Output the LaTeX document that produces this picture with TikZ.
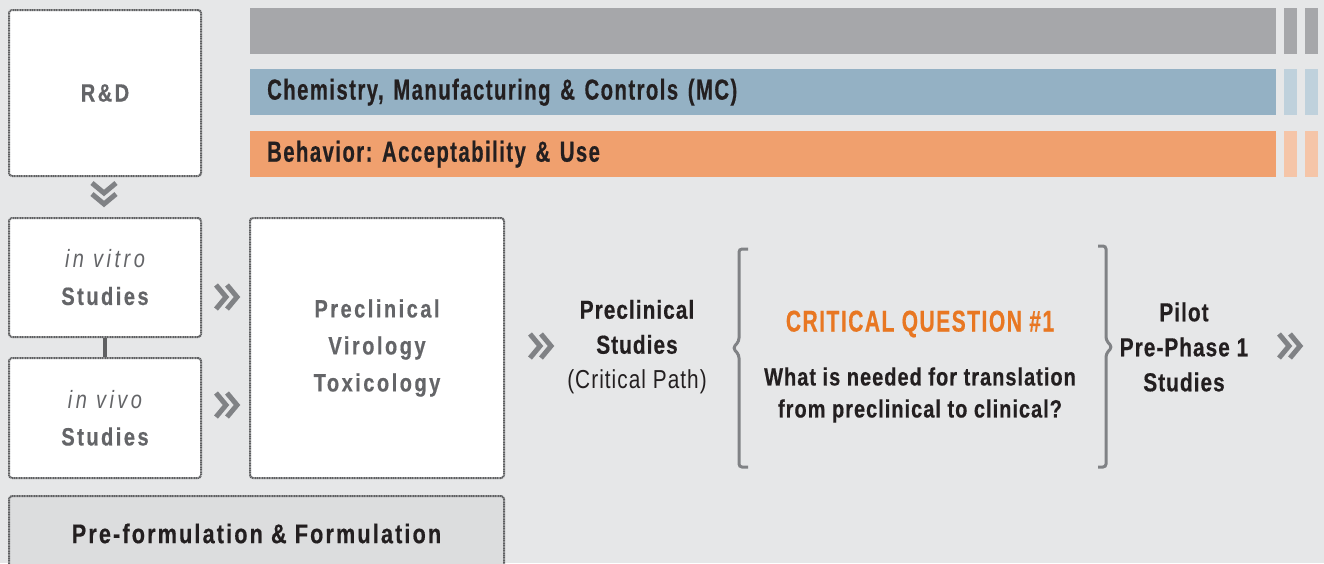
\documentclass[tikz,border=0pt]{standalone}
\usepackage{fontspec}
\setmainfont{Liberation Sans}[FakeStretch=0.8,LetterSpace=4,BoldFeatures={FakeBold=0.5}]
\newfontfamily\wideface{Liberation Sans}[FakeStretch=0.8,LetterSpace=10,BoldFeatures={FakeBold=0.5}]
\newfontfamily\barface{Liberation Sans}[FakeStretch=0.7,LetterSpace=5,BoldFeatures={FakeBold=0.5}]
\frenchspacing
\usetikzlibrary{positioning}
\definecolor{bgGray}{HTML}{E6E7E8}
\definecolor{barGray}{HTML}{A6A7AA}
\definecolor{barBlue}{HTML}{94B1C4}
\definecolor{barBlueL}{HTML}{BFD1DC}
\definecolor{barOrange}{HTML}{F0A06E}
\definecolor{barOrangeL}{HTML}{F5C5A8}
\definecolor{boxLine}{HTML}{5F6062}
\definecolor{txtGray}{HTML}{646568}
\definecolor{txtDark}{HTML}{231F20}
\definecolor{qOrange}{HTML}{E87722}
\definecolor{formFill}{HTML}{DCDDDE}
\definecolor{chevGray}{HTML}{808285}
\tikzset{
    every node/.style={inner sep=0pt},
    box/.style={
        draw=boxLine,
        fill=white,
        line width=2pt,
        dash pattern=on 1.2pt off 0.5pt,
        rounded corners=3pt,
        anchor=north west,
        align=center,
        text=txtGray,
        font=\wideface\fontsize{25}{37}\selectfont\bfseries},
    bar/.style={
        anchor=north west,
        minimum height=46pt,
        inner xsep=17pt,
        text width=992pt,
        align=left,
        text=txtDark,
        font=\barface\fontsize{29}{30}\selectfont\bfseries},
    tab/.style={
        anchor=north west,
        minimum width=13pt,
        minimum height=46pt},
    darktext/.style={
        align=center,
        text=txtDark,
        font=\fontsize{26}{35}\selectfont\bfseries},
    link/.style={
        draw=boxLine,
        line width=4pt},
    brace/.style={
        draw=chevGray,
        line width=3pt,
        rounded corners=3pt},
    chev/.pic={
        \draw[draw=chevGray, line width=5pt, line join=miter]
            (-12,-12) -- (-2,0) -- (-12,12)
            (-1,-12) -- (9,0) -- (-1,12);}}

\begin{document}
\begin{tikzpicture}[x=1pt,y=-1pt]
    \useasboundingbox[fill=bgGray] (0,0) rectangle (1324,563);
    \clip (0,0) rectangle (1324,563);

    % bars
    \node[bar, fill=barGray, minimum width=1026pt] (devbar) at (250,8) {};
    \node[tab, fill=barGray] (devtabA) at (1284,8) {};
    \node[tab, fill=barGray] (devtabB) at (1305,8) {};
    \node[bar, fill=barBlue, minimum width=1026pt] (cmcbar) at (250,69)
        {Chemistry, Manufacturing \& Controls (MC)};
    \node[tab, fill=barBlueL] (cmctabA) at (1284,69) {};
    \node[tab, fill=barBlueL] (cmctabB) at (1305,69) {};
    \node[bar, fill=barOrange, minimum width=1026pt] (behbar) at (250,131)
        {Behavior: Acceptability \& Use};
    \node[tab, fill=barOrangeL] (behtabA) at (1284,131) {};
    \node[tab, fill=barOrangeL] (behtabB) at (1305,131) {};

    % boxes
    \node[box, minimum width=192pt, minimum height=166pt] (rd) at (8,9) {R\&D};
    \node[box, minimum width=192pt, minimum height=119pt] (vitro) at (8,217)
        {{\mdseries\itshape\addfontfeature{LetterSpace=14}in vitro}\\Studies};
    \node[box, minimum width=192pt, minimum height=120pt] (vivo) at (8,357)
        {{\mdseries\itshape\addfontfeature{LetterSpace=14}in vivo}\\Studies};
    \node[box, minimum width=254pt, minimum height=260pt] (tox) at (249,217)
        {Preclinical\\Virology\\Toxicology};
    \node[box, fill=formFill, minimum width=495pt, minimum height=75pt,
        text=txtDark, font=\fontsize{27}{30}\selectfont\bfseries\addfontfeature{LetterSpace=8}]
        (form) at (8,495) {Pre-formulation \& Formulation};
    \draw[link] (vitro.south) -- (vivo.north);

    % chevrons
    \pic (chevrd) [rotate=-90] at (104,195) {chev};
    \pic (chevvitro) at (228,297) {chev};
    \pic (chevvivo) at (228,405) {chev};
    \pic (chevtox) at (542,346) {chev};
    \pic (chevpilot) at (1291,346) {chev};

    % critical path
    \node[darktext] (prestud) at (637,347)
        {Preclinical\\Studies\\{\mdseries (Critical Path)}};
    \draw[brace] (748,249) -- (739,249) -- (739,341) -- (733,348) -- (739,355)
        -- (739,467) -- (748,467);
    \node[darktext, text=qOrange, font=\barface\fontsize{30}{35}\selectfont\bfseries]
        (cq) at (920,324) {CRITICAL QUESTION \#1};
    \node[darktext, font=\fontsize{25}{32}\selectfont\bfseries] (cqtext)
        at (920,395) {What is needed for translation\\from preclinical to clinical?};
    \draw[brace] (1098,246) -- (1106,246) -- (1106,340) -- (1112,347) -- (1106,354)
        -- (1106,467) -- (1098,467);
    \node[darktext] (pilot) at (1184,347) {Pilot\\Pre-Phase 1\\Studies};
\end{tikzpicture}
\end{document}
